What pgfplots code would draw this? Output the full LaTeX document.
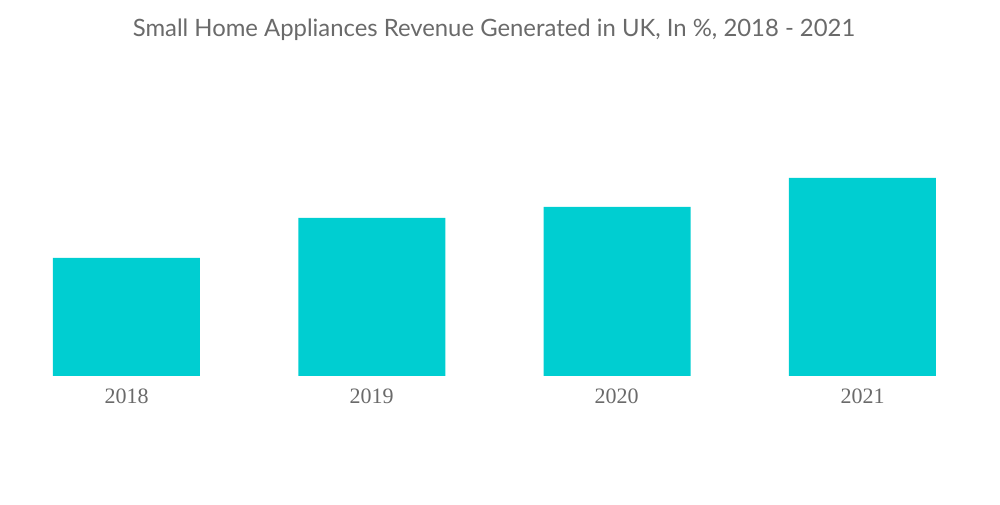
\documentclass[border=0pt]{standalone}
\usepackage{pgfplots}
\pgfplotsset{compat=1.18}
\usepackage{fontspec}
\setmainfont{Lato}
\newfontfamily\tickfont{Liberation Serif}
\definecolor{barc}{HTML}{00CED1}
\definecolor{txt}{HTML}{6A6A6A}
\begin{document}
\begin{tikzpicture}[x=0.75pt,y=0.75pt]
\useasboundingbox (0,0) rectangle (1000,504);
\node[anchor=center,text=txt,font=\fontsize{17.9}{21}\selectfont] at (494,474) {Small Home Appliances Revenue Generated in UK, In \%, 2018 - 2021};
\begin{axis}[
  at={(3.8pt*0.75,128pt*0.75)}, anchor=south west,
  scale only axis,
  width=981.2*0.75pt, height=276*0.75pt,
  xmin=-0.5, xmax=3.5, ymin=0, ymax=276,
  axis lines=none,
  ybar, bar width=147*0.75pt,
  xtick=data, xticklabels={2018,2019,2020,2021},
  ytick=\empty,
  clip=false,
]
\addplot[fill=barc, draw=none] coordinates {(0,118) (1,158) (2,169) (3,198)};
\end{axis}
\foreach \xx/\lab in {126.5/2018,371.5/2019,616.5/2020,862.5/2021}
  \node[text=txt,font=\tickfont\fontsize{16.5}{19}\selectfont] at (\xx,108) {\lab};
\end{tikzpicture}
\end{document}
